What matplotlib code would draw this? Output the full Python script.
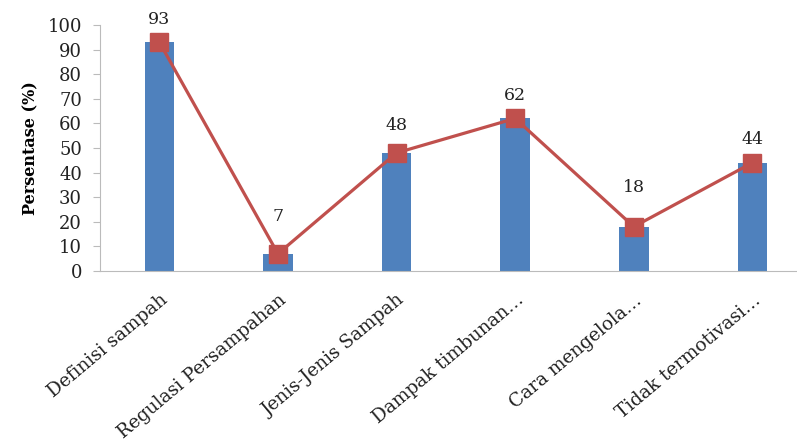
import numpy as np
import matplotlib.pyplot as plt
from matplotlib.transforms import offset_copy

categories = ['Definisi sampah', 'Regulasi Persampahan', 'Jenis-Jenis Sampah',
              'Dampak timbunan\u2026', 'Cara mengelola\u2026', 'Tidak termotivasi\u2026']
values = [93, 7, 48, 62, 18, 44]
# label offsets above each marker (points), as placed in the original
label_offsets = [16, 27, 20, 16.5, 28, 16.5]

plt.rcParams['font.family'] = ['DejaVu Serif']

fig = plt.figure(figsize=(7.97, 4.41), dpi=100)
ax = fig.add_axes([0.1255, 0.3855, 0.893, 0.558])

x = np.arange(len(categories))
ax.bar(x, values, width=0.25, color='#4F81BD', zorder=2)
ax.plot(x, values, color='#C0504D', lw=2.3, marker='s', markersize=13.5,
        markerfacecolor='#C0504D', markeredgecolor='#C0504D', zorder=3)

for xi, v, off in zip(x, values, label_offsets):
    ax.annotate(str(v), (xi, v), xytext=(0, off), textcoords='offset points',
                ha='center', va='center', fontsize=12.5, color='#222222')

ax.set_xlim(-0.5, 5.5)
ax.set_ylim(0, 100)
ax.set_yticks(np.arange(0, 101, 10))
ax.tick_params(axis='y', labelsize=13, length=5, color='#BBBBBB',
               labelcolor='#222222', pad=8)
ax.tick_params(axis='x', length=0)
ax.set_xticks(x)
ax.set_xticklabels([])
for xi, cat in zip(x, categories):
    tr = offset_copy(ax.get_xaxis_transform(), fig=fig, x=0, y=-20, units='dots')
    ax.text(xi, 0, cat, transform=tr, rotation=40, ha='right', va='top',
            rotation_mode='anchor', fontsize=13.3, color='#222222')
ax.set_ylabel('Persentase (%)', fontsize=11.5, fontweight='bold', labelpad=6)

for side in ['top', 'right']:
    ax.spines[side].set_visible(False)
for side in ['left', 'bottom']:
    ax.spines[side].set_color('#BBBBBB')

fig.savefig('out.png', dpi=100)
